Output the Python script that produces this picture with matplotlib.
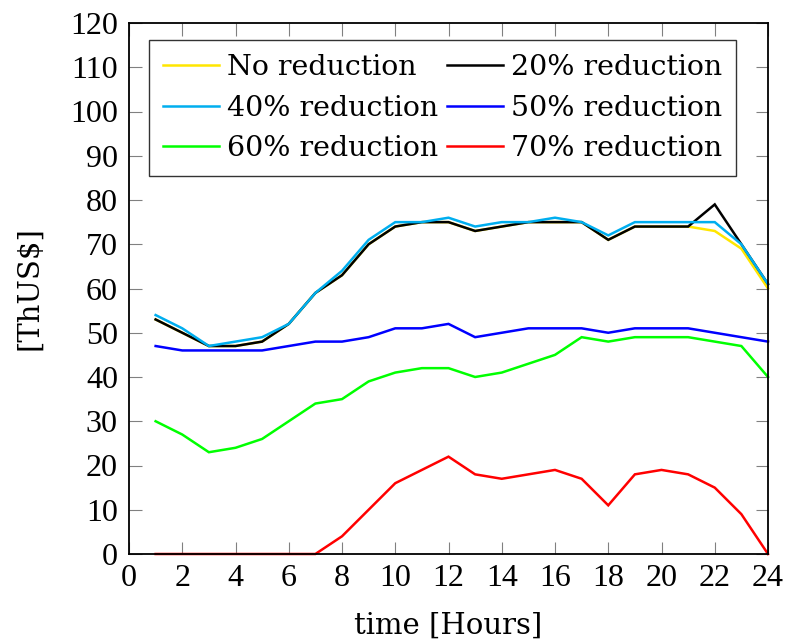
import matplotlib
matplotlib.use("Agg")
import matplotlib.pyplot as plt

hours = list(range(1, 25))
no_red = [53, 50, 47, 47, 48, 52, 59, 63, 70, 74, 75, 75, 73, 74, 75, 75, 75, 71, 74, 74, 74, 73, 69, 60]
red20 = [53, 50, 47, 47, 48, 52, 59, 63, 70, 74, 75, 75, 73, 74, 75, 75, 75, 71, 74, 74, 74, 79, 70, 61]
red40 = [54, 51, 47, 48, 49, 52, 59, 64, 71, 75, 75, 76, 74, 75, 75, 76, 75, 72, 75, 75, 75, 75, 70, 61]
red50 = [47, 46, 46, 46, 46, 47, 48, 48, 49, 51, 51, 52, 49, 50, 51, 51, 51, 50, 51, 51, 51, 50, 49, 48]
red60 = [30, 27, 23, 24, 26, 30, 34, 35, 39, 41, 42, 42, 40, 41, 43, 45, 49, 48, 49, 49, 49, 48, 47, 40]
red70 = [0, 0, 0, 0, 0, 0, 0, 4, 10, 16, 19, 22, 18, 17, 18, 19, 17, 11, 18, 19, 18, 15, 9, 0]

labels = ["No reduction", "20% reduction", "40% reduction",
          "50% reduction", "60% reduction", "70% reduction"]
colors = ["#FFE600", "#000000", "#00AEEF", "#0000FF", "#00FF00", "#FF0000"]
series = [no_red, red20, red40, red50, red60, red70]

xticks = list(range(0, 25, 2))
yticks = list(range(0, 121, 10))

W, H = 787, 643
fig = plt.figure(figsize=(W / 100, H / 100), dpi=100)
ax = fig.add_axes([129 / W, 1 - 554 / H, (768 - 129) / W, (554 - 23) / H])

handles = []
for s, c, l in zip(series, colors, labels):
    h, = ax.plot(hours, s, color=c, lw=1.8, label=l, solid_joinstyle="miter", clip_on=False)
    handles.append(h)

ax.set_xlim(0, 24)
ax.set_ylim(0, 120)
ax.set_xticks(xticks)
ax.set_yticks(yticks)

tickfont = {"family": "Liberation Serif", "size": 23}
ax.set_xticklabels([str(t) for t in xticks], fontdict=tickfont)
ax.set_yticklabels([str(t) for t in yticks], fontdict=tickfont)
ax.tick_params(direction="in", length=9, width=0.8, color="#808080",
               top=True, right=True, pad=7)
ax.tick_params(axis="y", pad=8)
for sp in ax.spines.values():
    sp.set_linewidth(1.3)
    sp.set_color("black")

ax.set_xlabel("time [Hours]", family="DejaVu Serif", size=21, labelpad=14)
ax.set_ylabel("[ThUS$]", family="DejaVu Serif", size=21, labelpad=19)

order = [0, 2, 4, 1, 3, 5]
leg = ax.legend([handles[i] for i in order], [labels[i] for i in order],
                ncol=2, loc="upper left", bbox_to_anchor=(0.031, 0.968),
                prop={"family": "DejaVu Serif", "size": 20.5},
                frameon=True, fancybox=False, edgecolor="black",
                borderpad=0.5, labelspacing=0.47, handlelength=1.95,
                handletextpad=0.28, columnspacing=0.34, borderaxespad=0)
leg.get_frame().set_linewidth(1.0)

fig.savefig("out.png", dpi=100)
